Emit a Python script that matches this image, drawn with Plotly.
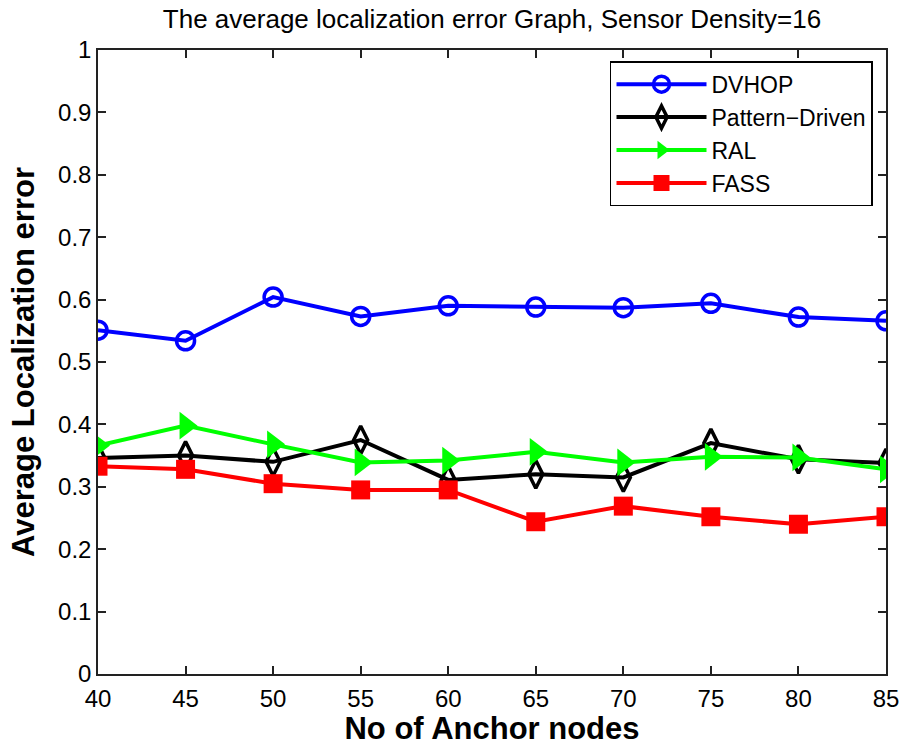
import plotly.graph_objects as go

anchor_nodes = [40, 45, 50, 55, 60, 65, 70, 75, 80, 85]
dvhop = [0.551, 0.534, 0.604, 0.573, 0.590, 0.588, 0.587, 0.594, 0.572, 0.566]
pattern_driven = [0.346, 0.350, 0.340, 0.375, 0.311, 0.320, 0.315, 0.370, 0.344, 0.338]
ral = [0.366, 0.398, 0.368, 0.339, 0.342, 0.356, 0.339, 0.348, 0.347, 0.328]
fass = [0.333, 0.328, 0.305, 0.295, 0.295, 0.244, 0.269, 0.252, 0.240, 0.252]

series_names = ["DVHOP", "Pattern\u2212Driven", "RAL", "FASS"]
x_ticks = [40, 45, 50, 55, 60, 65, 70, 75, 80, 85]
y_ticks = [0, 0.1, 0.2, 0.3, 0.4, 0.5, 0.6, 0.7, 0.8, 0.9, 1]

FONT = "Liberation Sans, Arial, sans-serif"

fig = go.Figure()
fig.add_trace(go.Scatter(
    x=anchor_nodes, y=dvhop, name=series_names[0], mode="lines+markers",
    line=dict(color="#0000FF", width=4),
    marker=dict(symbol="circle-open", size=18, color="#0000FF", line=dict(width=3.5, color="#0000FF")),
))
fig.add_trace(go.Scatter(
    x=anchor_nodes, y=pattern_driven, name=series_names[1], mode="lines+markers",
    line=dict(color="#000000", width=4),
    marker=dict(symbol="diamond-tall-open", size=20, color="#000000", line=dict(width=3.5, color="#000000")),
))
fig.add_trace(go.Scatter(
    x=anchor_nodes, y=ral, name=series_names[2], mode="lines+markers",
    line=dict(color="#00FF00", width=4),
    marker=dict(symbol="triangle-right", size=24, color="#00FF00", line=dict(width=0)),
))
fig.add_trace(go.Scatter(
    x=anchor_nodes, y=fass, name=series_names[3], mode="lines+markers",
    line=dict(color="#FF0000", width=4),
    marker=dict(symbol="square", size=19, color="#FF0000", line=dict(width=0)),
))

axis_common = dict(
    showline=True, linecolor="#222222", linewidth=1.5, mirror="ticks",
    ticks="inside", ticklen=8, tickwidth=1.5, tickcolor="#222222",
    showgrid=False, zeroline=False,
    tickfont=dict(family=FONT, size=24, color="#000000"),
)

fig.update_layout(
    width=904, height=746,
    margin=dict(l=98, r=18, t=50, b=72, autoexpand=False),
    paper_bgcolor="white", plot_bgcolor="white",
    font=dict(family=FONT, color="#000000"),
    title=dict(text="The average localization error Graph, Sensor Density=16",
               font=dict(family=FONT, size=26, color="#000000"),
               x=0.5, xref="paper", xanchor="center", y=0.975, yref="container", yanchor="middle"),
    xaxis=dict(range=[40, 85], tickvals=x_ticks, ticktext=[str(v) for v in x_ticks],
               ticklabelstandoff=2,
               title=dict(text="<b>No of Anchor nodes</b>", font=dict(family=FONT, size=31), standoff=8),
               **axis_common),
    yaxis=dict(range=[0, 1], tickvals=y_ticks, ticktext=[("%g" % v) for v in y_ticks],
               title=dict(text="<b>Average Localization error</b>", font=dict(family=FONT, size=31), standoff=14),
               **axis_common),
    legend=dict(x=0.9835, y=0.982, xanchor="right", yanchor="top",
                bgcolor="white", bordercolor="#000000", borderwidth=1.5,
                font=dict(family=FONT, size=23, color="#000000"),
                itemwidth=90, tracegroupgap=0),
    showlegend=True,
)

fig.write_html("out.html")
